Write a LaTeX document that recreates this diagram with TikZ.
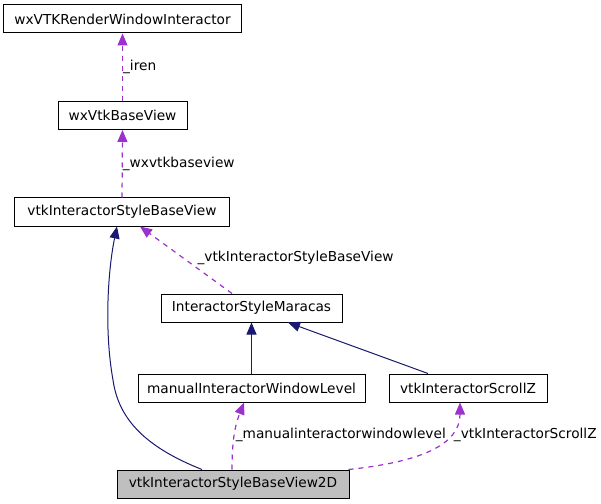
\documentclass[tikz,border=0pt]{standalone}
\usepackage{fontspec}
\setmainfont{DejaVu Sans}
\usetikzlibrary{arrows.meta}
\definecolor{usecol}{HTML}{9A32CD}
\definecolor{inhcol}{HTML}{191970}
\definecolor{curcol}{HTML}{BFBFBF}

\begin{document}
\begin{tikzpicture}[x=1bp, y=-1bp,
   txt/.style={font=\fontsize{13.7bp}{16bp}\selectfont},
   cls/.style={txt, draw, line width=1bp, minimum height=28bp, inner sep=0pt},
   lbl/.style={txt, text=black, anchor=west, inner sep=0pt},
   uses/.style={usecol, dash pattern=on 5bp off 5bp, line width=1.2bp,
                -{Triangle[length=12bp, width=10bp]}},
   inh/.style={inhcol, line width=1bp, -{Triangle[length=12bp, width=10bp]}}]
 \useasboundingbox (0,0) rectangle (601,504);
 % classes
 \node (rwi) [cls, minimum width=237bp] at (122.5,19) {wxVTKRenderWindowInteractor};
 \node (wbv) [cls, minimum width=129bp] at (122.5,115.5) {wxVtkBaseView};
 \node (isbv) [cls, minimum width=214bp] at (122,212) {vtkInteractorStyleBaseView};
 \node (mar) [cls, minimum width=181bp] at (251.5,308) {InteractorStyleMaracas};
 \node (miwl) [cls, minimum width=227bp] at (251.5,388) {manualInteractorWindowLevel};
 \node (isz) [cls, minimum width=158bp] at (468,388) {vtkInteractorScrollZ};
 \node (bv2d) [cls, fill=curcol, minimum width=232bp] at (233,484) {vtkInteractorStyleBaseView2D};
 % inheritance
 \draw[inh] (miwl.north) -- (mar.south);
 \draw[inh] ([xshift=-40bp]isz.north) -- ([xshift=36.5bp]mar.south);
 \draw[inh] ([xshift=-31bp]bv2d.north) .. controls (140,445) and (118,415) .. (113,380)
    .. controls (104,330) and (108,270) .. ([xshift=-5bp]isbv.south);
 % members
 \draw[uses] (wbv.north) -- (rwi.south) node[lbl, pos=.5] {\_iren};
 \draw[uses] (isbv.north) -- (wbv.south) node[lbl, pos=.5] {\_wxvtkbaseview};
 \draw[uses] ([xshift=-19.5bp]mar.north) -- ([xshift=18bp]isbv.south)
    node[lbl, pos=.5, xshift=11bp, yshift=2bp] {\_vtkInteractorStyleBaseView};
 \draw[uses] ([xshift=-1bp]bv2d.north) .. controls (232,445) and (234,428) .. ([xshift=-7.5bp]miwl.south)
    node[lbl, pos=.5, xshift=1bp, yshift=1bp] {\_manualinteractorwindowlevel};
 \draw[uses] ([xshift=-1bp]bv2d.north east) .. controls (420,462) and (460,445) .. ([xshift=-8bp]isz.south)
    node[lbl, pos=.6, xshift=12bp, yshift=7bp] {\_vtkInteractorScrollZ};
\end{tikzpicture}
\end{document}
